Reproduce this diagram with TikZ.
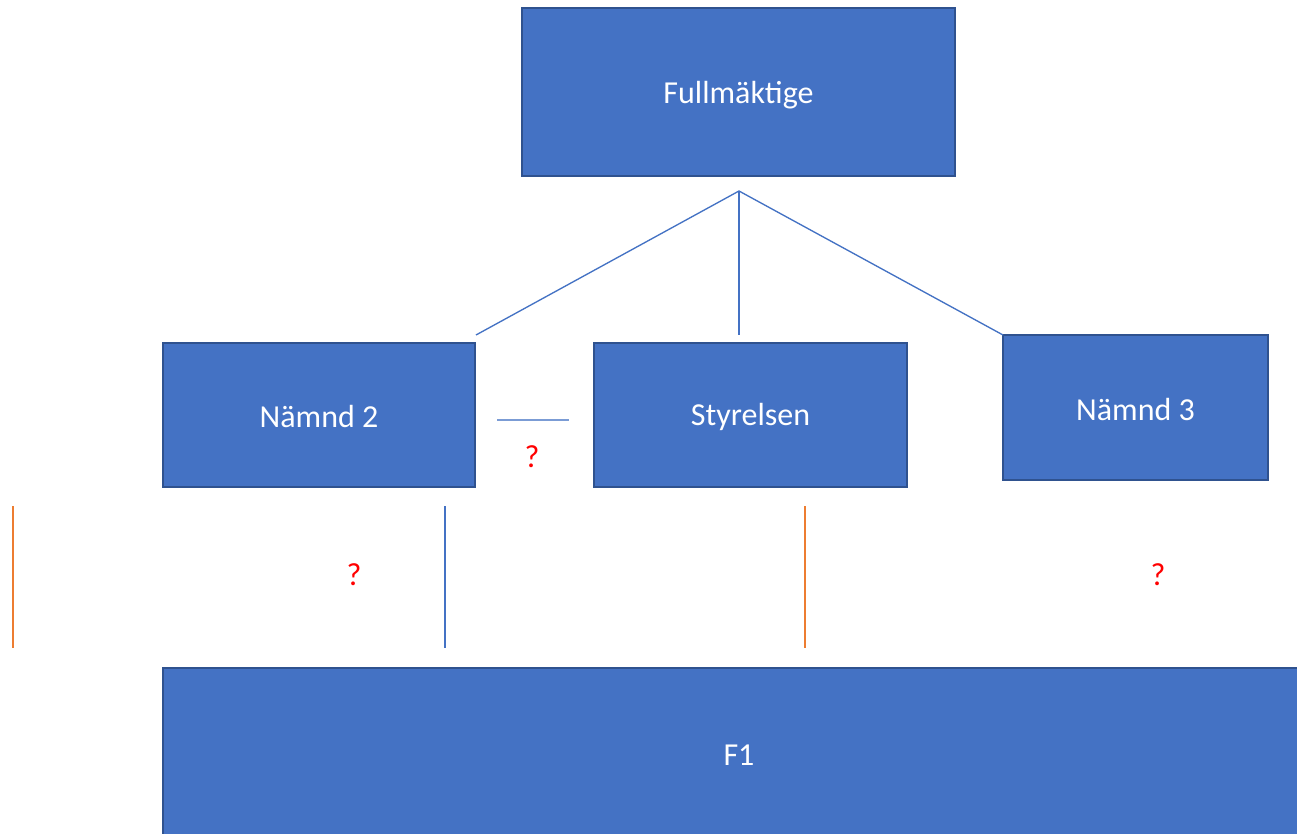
\documentclass[tikz,border=0pt]{standalone}
\usepackage{fontspec}
\setmainfont{Carlito}
\definecolor{boxfill}{HTML}{4472C4}
\definecolor{boxedge}{HTML}{2F528F}
\definecolor{linkblue}{HTML}{4472C4}
\definecolor{linkorange}{HTML}{ED7D31}
\begin{document}
\begin{tikzpicture}[x=0.75pt,y=-0.75pt,
  orgbox/.style={draw=boxedge,fill=boxfill,line width=1.5pt},
  boxtext/.style={text=white,font=\fontsize{24}{27}\selectfont},
  link/.style={draw=linkblue,line width=1pt},
  qmark/.style={text=red,font=\fontsize{24}{27}\selectfont}]
\clip (0,0) rectangle (1297,834);
\fill[white] (0,0) rectangle (1297,834);
% boxes
\path[orgbox] (522,8) rectangle (955,176);
\node[boxtext] (full) at (738.5,95) {Fullmäktige};
\path[orgbox] (163,343) rectangle (475,487);
\node[boxtext] (n2) at (319,417) {Nämnd 2};
\path[orgbox] (594,343) rectangle (907,487);
\node[boxtext] (sty) at (750.5,417) {Styrelsen};
\path[orgbox] (1003,335) rectangle (1268,480);
\node[boxtext] (n3) at (1135.5,410) {Nämnd 3};
\path[orgbox] (163,668) rectangle (1310,850);
\node[boxtext] (f1) at (739,755) {F1};
% connectors
\coordinate (apex) at (739,191);
\coordinate (a2) at (476,335);
\coordinate (as) at (739,335);
\coordinate (a3) at (1003,335);
\draw[link] (a2) -- (apex) -- (a3);
\draw[link] (apex) -- (as);
\coordinate (h1) at (497,420);
\coordinate (h2) at (569,420);
\draw[link,draw opacity=0.7] (h1) -- (h2);
\coordinate (v1a) at (445,506);
\coordinate (v1b) at (445,648);
\draw[link] (v1a) -- (v1b);
\coordinate (o1a) at (13,506);
\coordinate (o1b) at (13,648);
\draw[draw=linkorange,line width=1pt] (o1a) -- (o1b);
\coordinate (o2a) at (805,506);
\coordinate (o2b) at (805,648);
\draw[draw=linkorange,line width=2pt] (o2a) -- (o2b);
% question marks
\node[qmark] (q1) at (532,457) {?};
\node[qmark] (q2) at (354,575) {?};
\node[qmark] (q3) at (1158,575) {?};
\end{tikzpicture}
\end{document}
